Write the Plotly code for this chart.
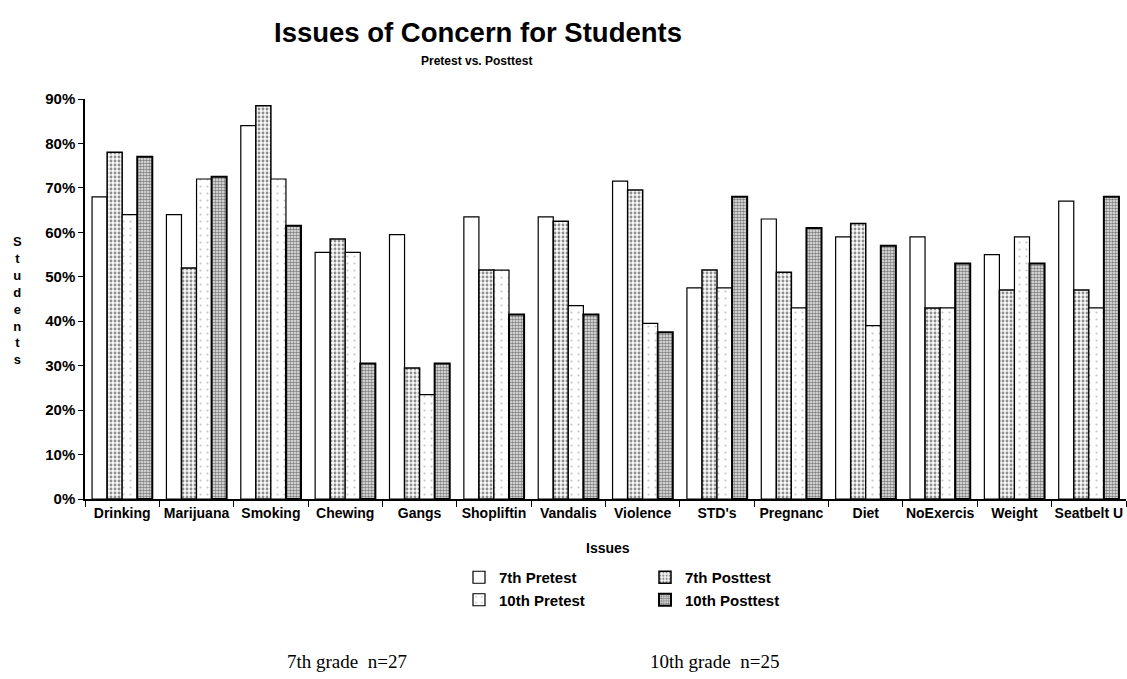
import plotly.graph_objects as go

issues = ["Drinking", "Marijuana", "Smoking", "Chewing", "Gangs", "Shopliftin", "Vandalis",
          "Violence", "STD's", "Pregnanc", "Diet", "NoExercis", "Weight", "Seatbelt U"]
pre7 = [68, 64, 84, 55.5, 59.5, 63.5, 63.5, 71.5, 47.5, 63, 59, 59, 55, 67]
post7 = [78, 52, 88.5, 58.5, 29.5, 51.5, 62.5, 69.5, 51.5, 51, 62, 43, 47, 47]
pre10 = [64, 72, 72, 55.5, 23.5, 51.5, 43.5, 39.5, 47.5, 43, 39, 43, 59, 43]
post10 = [77, 72.5, 61.5, 30.5, 30.5, 41.5, 41.5, 37.5, 68, 61, 57, 53, 53, 68]
y_ticks = [0, 10, 20, 30, 40, 50, 60, 70, 80, 90]

FONT = "Liberation Sans, Arial, sans-serif"
SERIF = "Liberation Serif, Times New Roman, serif"
W, H = 1127, 679
L, R, T, B = 85, 1126, 99, 499


def px(x):
    return (x - L) / (R - L)


def py(y):
    return (B - y) / (B - T)


fig = go.Figure()
series = [
    ("7th Pretest", pre7, dict(shape="", fgcolor="black", bgcolor="white"), 1.2, "legend"),
    ("7th Posttest", post7, dict(shape=".", fgcolor="#222", bgcolor="#fafafa", size=4, solidity=0.4), 1.5, "legend2"),
    ("10th Pretest", pre10, dict(shape=".", fgcolor="#888", bgcolor="white", size=7, solidity=0.07), 1.2, "legend"),
    ("10th Posttest", post10, dict(shape=".", fgcolor="#111", bgcolor="#eeeeee", size=3, solidity=0.55), 2, "legend2"),
]
for name, vals, pat, lw, lg in series:
    fig.add_trace(go.Bar(
        x=issues, y=vals, name=name, legend=lg,
        marker=dict(color="white", pattern=pat, line=dict(color="black", width=lw)),
    ))

legend_common = dict(xanchor="left", yanchor="top", orientation="v",
                     font=dict(size=15, family=FONT, weight="bold"), tracegroupgap=0,
                     bgcolor="rgba(0,0,0,0)", itemwidth=30)

fig.update_layout(
    width=W, height=H,
    paper_bgcolor="white", plot_bgcolor="white",
    margin=dict(l=L, r=W - R, t=T, b=H - B),
    barmode="group", bargap=0.19, bargroupgap=0,
    font=dict(family=FONT, color="black", size=12),
    showlegend=True,
    legend=dict(x=px(459), y=py(561), **legend_common),
    legend2=dict(x=px(645), y=py(561), **legend_common),
    xaxis=dict(showline=True, linecolor="black", linewidth=1.5, ticks="outside", tickson="boundaries",
               ticklen=6, tickcolor="black", showgrid=False, tickangle=0, automargin=False,
               tickfont=dict(size=14, family=FONT, weight="bold")),
    yaxis=dict(range=[0, 90], tickvals=y_ticks, ticktext=[f"{v}%" for v in y_ticks],
               showline=True, linecolor="black", linewidth=1.5, ticks="outside", ticklen=5,
               tickcolor="black", showgrid=False, zeroline=False, automargin=False,
               tickfont=dict(size=15, family=FONT, weight="bold")),
)

fig.add_annotation(text="<b>Issues of Concern for Students</b>", x=px(478), y=py(32),
                   xref="paper", yref="paper", xanchor="center", yanchor="middle", showarrow=False,
                   font=dict(size=27.5, family=FONT))
fig.add_annotation(text="<b>Pretest vs. Posttest</b>", x=px(476), y=py(61),
                   xref="paper", yref="paper", xanchor="center", yanchor="middle", showarrow=False,
                   font=dict(size=12, family=FONT))
fig.add_annotation(text="<b>Issues</b>", x=px(608), y=py(548),
                   xref="paper", yref="paper", xanchor="center", yanchor="middle", showarrow=False,
                   font=dict(size=14, family=FONT))
fig.add_annotation(text="<b>" + "<br>".join("Students") + "</b>", x=px(17), y=py(300),
                   xref="paper", yref="paper", xanchor="center", yanchor="middle", showarrow=False,
                   align="center", font=dict(size=13, family=FONT))
fig.add_annotation(text="7th grade  n=27", x=px(285), y=py(661),
                   xref="paper", yref="paper", xanchor="left", yanchor="middle", showarrow=False,
                   font=dict(size=19, family=SERIF))
fig.add_annotation(text="10th grade  n=25", x=px(648), y=py(661),
                   xref="paper", yref="paper", xanchor="left", yanchor="middle", showarrow=False,
                   font=dict(size=19, family=SERIF))

fig.write_html("out.html")
